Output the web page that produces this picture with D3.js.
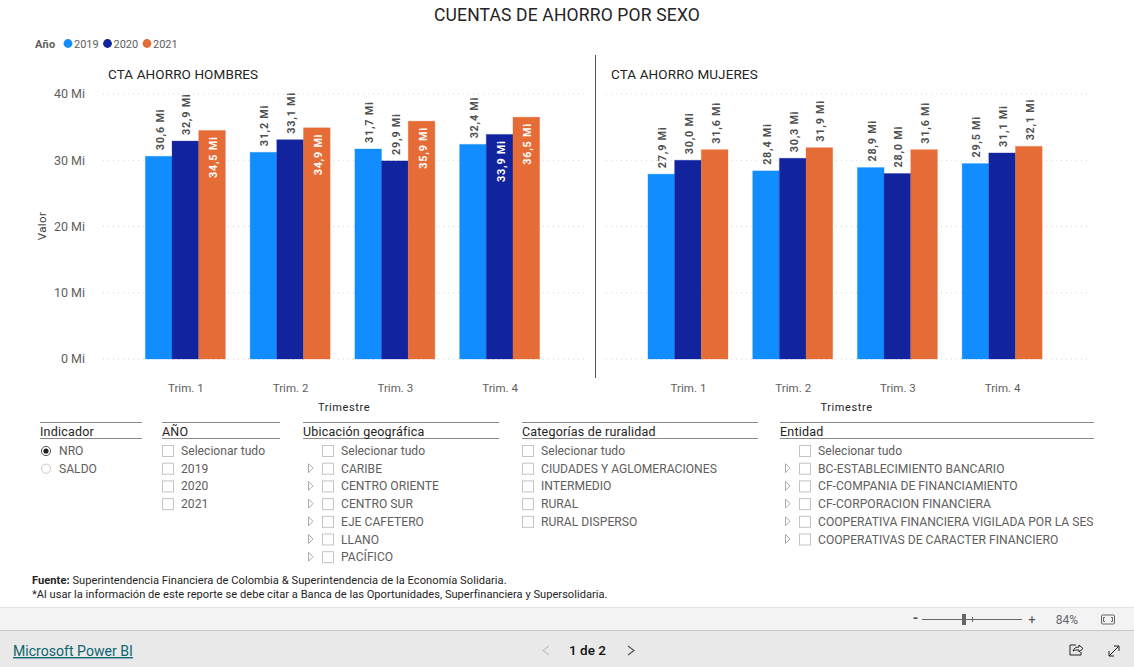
<!DOCTYPE html>
<html><head><meta charset="utf-8">
<script src="https://cdn.jsdelivr.net/npm/d3@7"></script>
<style>
html,body{margin:0;padding:0;background:#fff;overflow:hidden}
svg{display:block}
text{font-family:Roboto,"Open Sans",sans-serif}
</style></head><body>
<svg id="c" width="1134" height="667"></svg>
<script>
const quarters=["Trim. 1","Trim. 2","Trim. 3","Trim. 4"];
const years=["2019","2020","2021"];
const colors=["#118DFF","#12239E","#E66C37"];
const yTicks=[0,10,20,30,40];
const hombres2019=[30.6,31.2,31.7,32.4];
const hombres2020=[32.9,33.1,29.9,33.9];
const hombres2021=[34.5,34.9,35.9,36.5];
const mujeres2019=[27.9,28.4,28.9,29.5];
const mujeres2020=[30.0,30.3,28.0,31.1];
const mujeres2021=[31.6,31.9,31.6,32.1];
const indicadorItems=["NRO","SALDO"];
const anoItems=["Selecionar tudo","2019","2020","2021"];
const geoItems=["Selecionar tudo","CARIBE","CENTRO ORIENTE","CENTRO SUR","EJE CAFETERO","LLANO","PACÍFICO"];
const ruralItems=["Selecionar tudo","CIUDADES Y AGLOMERACIONES","INTERMEDIO","RURAL","RURAL DISPERSO"];
const entidadItems=["Selecionar tudo","BC-ESTABLECIMIENTO BANCARIO","CF-COMPANIA DE FINANCIAMIENTO","CF-CORPORACION FINANCIERA","COOPERATIVA FINANCIERA VIGILADA POR LA SES","COOPERATIVAS DE CARACTER FINANCIERO"];

const svg=d3.select("#c");
const y=d3.scaleLinear().domain([0,40]).range([359,94]);
const fmt=v=>v.toFixed(1).replace(".",",")+" Mi";
const T=(x,yy,s,o={})=>svg.append("text").attr("x",x).attr("y",yy).text(s)
  .attr("font-size",o.size||12).attr("fill",o.fill||"#605E5C").attr("text-anchor",o.anchor||"start")
  .attr("font-weight",o.weight||400).attr("letter-spacing",o.ls||0);

T(567,21,"CUENTAS DE AHORRO POR SEXO",{size:17.5,fill:"#252423",anchor:"middle",ls:.16});
T(35,48,"Año",{size:11,weight:700,fill:"#605E5C",ls:.3});
const legendX=[69,108.5,148];
years.forEach((yr,i)=>{
  svg.append("circle").attr("cx",legendX[i]-1).attr("cy",43.5).attr("r",4.4).attr("fill",colors[i]);
  T(legendX[i]+5,48,yr,{size:11});
});
svg.append("text").attr("transform","translate(46,226) rotate(-90)").attr("text-anchor","middle").text("Valor")
  .attr("font-size",11.5).attr("fill","#404040").attr("letter-spacing",.4);

function chart(title,titleX,bandRange,gridRange,series,showY){
  T(titleX,79,title,{size:13.5,fill:"#252423",ls:.1});
  const x0=d3.scaleBand().domain(quarters).range(bandRange).paddingInner(0.236).paddingOuter(0.118);
  const x1=d3.scaleBand().domain(years).range([0,x0.bandwidth()]);
  const g=svg.append("g");
  g.selectAll("line.g").data(yTicks).join("line").attr("x1",gridRange[0]).attr("x2",gridRange[1])
    .attr("y1",d=>y(d)).attr("y2",d=>y(d)).attr("stroke","#D6D4D2").attr("stroke-width",1).attr("stroke-dasharray","1 4");
  if(showY){
    const ax=svg.append("g").attr("transform","translate(92,0)").call(d3.axisLeft(y).tickValues(yTicks).tickSize(0).tickPadding(7).tickFormat(d=>d+" Mi"));
    ax.select(".domain").remove();
    ax.selectAll("text").attr("font-size",12.5).attr("fill","#605E5C").attr("font-family","Roboto").attr("dy",".3em");
  }
  const ax2=svg.append("g").attr("transform","translate(0,382)").call(d3.axisBottom(x0).tickSize(0).tickPadding(0));
  ax2.select(".domain").remove();
  ax2.selectAll("text").attr("font-size",11.5).attr("fill","#605E5C").attr("font-family","Roboto").attr("dy",".9em").attr("dx",.5).attr("letter-spacing",.05);
  T((bandRange[0]+bandRange[1])/2+1.5,411,"Trimestre",{size:11,fill:"#252423",anchor:"middle",ls:.6});
  years.forEach((yr,si)=>{
    quarters.forEach((q,qi)=>{
      const v=series[si][qi], bx=x0(q)+x1(yr), bw=x1.bandwidth();
      g.append("rect").attr("x",bx).attr("y",y(v)).attr("width",bw).attr("height",y(0)-y(v)).attr("fill",colors[si])
        .attr("stroke",colors[si]).attr("stroke-opacity",.3).attr("stroke-width",1);
      const inside=v>33.5;
      const cx=bx+bw/2+5, cy=inside? y(v)+6 : y(v)-6;
      g.append("text").attr("transform",`translate(${cx},${cy}) rotate(-90)`)
       .attr("text-anchor",inside?"end":"start").text(fmt(v))
       .attr("font-size",10.8).attr("font-weight",700).attr("letter-spacing",.75).attr("fill",inside?"#fff":"#4f4f4f");
    });
  });
}
chart("CTA AHORRO HOMBRES",108,[133,552],[103,585],[hombres2019,hombres2020,hombres2021],true);
svg.append("line").attr("x1",595.5).attr("x2",595.5).attr("y1",55).attr("y2",378).attr("stroke","#555").attr("stroke-width",1);
chart("CTA AHORRO MUJERES",611,[635.6,1054.5],[606,1088],[mujeres2019,mujeres2020,mujeres2021],false);

function slicer(title,x1,x2,items,opt={}){
  svg.append("line").attr("x1",x1).attr("x2",x2).attr("y1",422.5).attr("y2",422.5).attr("stroke","#8a8a8a");
  svg.append("line").attr("x1",x1).attr("x2",x2).attr("y1",438.5).attr("y2",438.5).attr("stroke","#8a8a8a");
  T(x1,436,title,{size:12.5,fill:"#252423",ls:.2});
  items.forEach((s,i)=>{
    const yy=451+i*17.7;
    const bx=opt.boxX;
    if(opt.radio){
      svg.append("circle").attr("cx",bx+5).attr("cy",yy).attr("r",4.6).attr("fill","#fff").attr("stroke",i==0?"#555":"#ccc");
      if(i==0) svg.append("circle").attr("cx",bx+5).attr("cy",yy).attr("r",2.6).attr("fill","#222");
    } else {
      svg.append("rect").attr("x",bx+.5).attr("y",yy-5.5).attr("width",11).attr("height",11).attr("fill","#fff").attr("stroke","#c4c4c4");
    }
    if(opt.tree&&i>0){
      svg.append("path").attr("d",`M${bx-13.5},${yy-5}L${bx-9},${yy-.5}L${bx-13.5},${yy+4}Z`).attr("fill","#fff").attr("stroke","#b0a8a8");
    }
    T(opt.textX,yy+4,s,{size:12.1,fill:"#605E5C",ls:.02});
  });
}
slicer("Indicador",40,142,indicadorItems,{radio:true,boxX:41,textX:59});
slicer("AÑO",162,280,anoItems,{boxX:162,textX:181});
slicer("Ubicación geográfica",303,499,geoItems,{boxX:322,textX:341,tree:true});
slicer("Categorías de ruralidad",522,758,ruralItems,{boxX:522,textX:541});
slicer("Entidad",780,1094,entidadItems,{boxX:799,textX:818,tree:true});

const f1=svg.append("text").attr("x",32).attr("y",584).attr("font-size",11.1).attr("fill","#252423").attr("letter-spacing",.05);
f1.append("tspan").attr("font-weight",700).text("Fuente: ");
f1.append("tspan").text("Superintendencia Financiera de Colombia & Superintendencia de la Economía Solidaria.");
T(32,598,"*Al usar la información de este reporte se debe citar a Banca de las Oportunidades, Superfinanciera y Supersolidaria.",{size:11.1,fill:"#252423",ls:.02});

// Power BI chrome
svg.append("rect").attr("x",0).attr("y",607).attr("width",1134).attr("height",23).attr("fill","#F3F3F3");
svg.append("line").attr("x1",0).attr("x2",1134).attr("y1",607.5).attr("y2",607.5).attr("stroke","#e2e2e2");
svg.append("rect").attr("x",0).attr("y",630).attr("width",1134).attr("height",37).attr("fill","#E9E9E9");
svg.append("line").attr("x1",0).attr("x2",1134).attr("y1",630.5).attr("y2",630.5).attr("stroke","#c8c8c8");
T(13,656,"Microsoft Power BI",{size:14.1,fill:"#0E6670"}).attr("text-decoration","underline");
T(587.5,655,"1 de 2",{size:13.5,fill:"#111",anchor:"middle",weight:500});
svg.append("path").attr("d","M549,646L543,650.5L549,655").attr("fill","none").attr("stroke","#c4c4c4").attr("stroke-width",1.2);
svg.append("path").attr("d","M628,646L634,650.5L628,655").attr("fill","none").attr("stroke","#555").attr("stroke-width",1.2);
T(915.5,623,"-",{size:14,fill:"#555",anchor:"middle",weight:700});
svg.append("line").attr("x1",922).attr("x2",1022).attr("y1",619.5).attr("y2",619.5).attr("stroke","#666");
svg.append("line").attr("x1",972.5).attr("x2",972.5).attr("y1",617).attr("y2",622).attr("stroke","#666");
svg.append("rect").attr("x",962).attr("y",614).attr("width",4).attr("height",11).attr("fill","#666");
T(1032,623.5,"+",{size:13,fill:"#555",anchor:"middle"});
T(1067,623.5,"84%",{size:12,fill:"#666",anchor:"middle"});
svg.append("rect").attr("x",1101.5).attr("y",615).attr("width",13).attr("height",9).attr("rx",1).attr("fill","none").attr("stroke","#666");
svg.append("path").attr("d","M1105,617.5h-1.5v4h1.5M1111,617.5h1.5v4h-1.5").attr("fill","none").attr("stroke","#666");
svg.append("path").attr("d","M1076,645h-6v10h11v-3M1073,651c1,-3 3,-4 6,-4v-2l4,3.5l-4,3.5v-2c-3,0 -4,0 -6,1").attr("fill","none").attr("stroke","#222");
svg.append("path").attr("d","M1109,656L1119,646M1114,646h5v5M1109,651v5h5").attr("fill","none").attr("stroke","#222");
</script></body></html>
